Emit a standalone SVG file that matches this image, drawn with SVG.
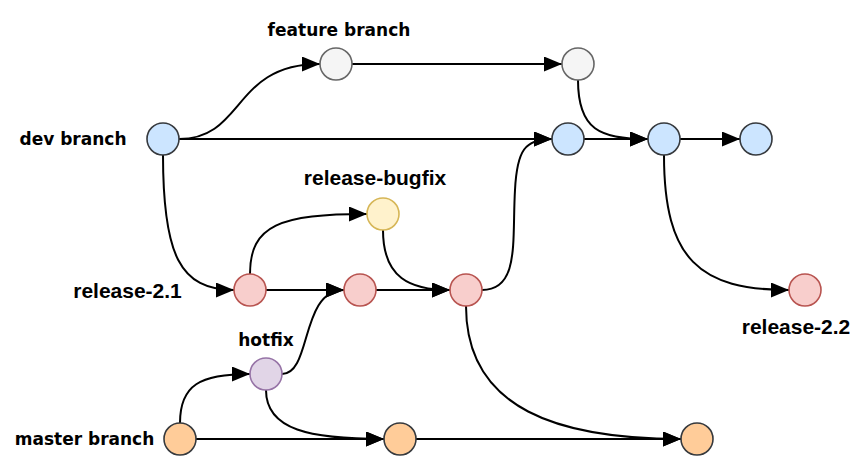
<svg xmlns="http://www.w3.org/2000/svg" width="856" height="476" viewBox="0 0 856 476">
  <style>
    .edge { fill: none; stroke: #000; stroke-width: 2; marker-end: url(#arrow); }
    .node { stroke-width: 1.6; }
    .dev { fill: #cce5ff; stroke: #36393d; }
    .feature { fill: #f5f5f5; stroke: #666666; }
    .bugfix { fill: #fff2cc; stroke: #d6b656; }
    .release { fill: #f8cecc; stroke: #b85450; }
    .hotfix { fill: #e1d5e7; stroke: #9673a6; }
    .master { fill: #ffcc99; stroke: #36393d; }
    .lbl-a { font-family: "DejaVu Sans", sans-serif; font-weight: bold; font-size: 17px; fill: #000; text-anchor: middle; }
    .lbl-b { font-family: "Liberation Sans", Arial, sans-serif; font-weight: bold; font-size: 21px; fill: #000; text-anchor: middle; }
  </style>
  <defs>
    <marker id="arrow" viewBox="0 0 18 15" refX="18" refY="7.5" markerWidth="18" markerHeight="15" markerUnits="userSpaceOnUse" orient="auto">
      <path d="M0,0 L18,7.5 L0,15 z" fill="#000"/>
    </marker>
  </defs>
  <rect width="856" height="476" fill="#fff"/>

  <g id="connectors">
    <!-- dev branch -->
    <path class="edge" d="M179,139 C245,139 232,64 320,64"/>
    <path class="edge" d="M179,139 L552,139"/>
    <path class="edge" d="M163,155 C163,255 180,290 234,290"/>
    <!-- feature branch -->
    <path class="edge" d="M352,64 L562,64"/>
    <path class="edge" d="M578,80 C578,130 600,139 648,139"/>
    <path class="edge" d="M584,139 L648,139"/>
    <path class="edge" d="M680,139 L740,139"/>
    <path class="edge" d="M664,155 C664,260 700,290 789,290"/>
    <!-- release-2.1 -->
    <path class="edge" d="M250,274 C250,225 280,214 367,214"/>
    <path class="edge" d="M266,290 L344,290"/>
    <path class="edge" d="M383,230 C383,278 410,290 450,290"/>
    <path class="edge" d="M376,290 L450,290"/>
    <path class="edge" d="M482,290 C520,290 512,240 515,190 C517,150 525,139 552,139"/>
    <path class="edge" d="M466,306 C466,410 560,439 681,439"/>
    <!-- hotfix -->
    <path class="edge" d="M282,374 C312,374 300,290 344,290"/>
    <path class="edge" d="M266,390 C266,430 310,439 384,439"/>
    <!-- master branch -->
    <path class="edge" d="M180,423 C180,385 200,374 250,374"/>
    <path class="edge" d="M196,439 L384,439"/>
    <path class="edge" d="M416,439 L681,439"/>
  </g>

  <g id="dev-branch">
    <circle class="node dev" cx="163" cy="139" r="16"/>
    <text class="lbl-a" x="73" y="144.5">dev branch</text>
  </g>
  <g id="dev-2"><circle class="node dev" cx="568" cy="139" r="16"/></g>
  <g id="dev-3"><circle class="node dev" cx="664" cy="139" r="16"/></g>
  <g id="dev-4"><circle class="node dev" cx="756" cy="139" r="16"/></g>

  <g id="feature-branch">
    <circle class="node feature" cx="336" cy="64" r="16"/>
    <text class="lbl-a" x="339" y="35.5">feature branch</text>
  </g>
  <g id="feature-2"><circle class="node feature" cx="578" cy="64" r="16"/></g>

  <g id="release-bugfix">
    <circle class="node bugfix" cx="383" cy="214" r="16"/>
    <text class="lbl-b" x="375" y="185">release-bugfix</text>
  </g>

  <g id="release-2-1">
    <circle class="node release" cx="250" cy="290" r="16"/>
    <text class="lbl-b" x="127.5" y="297.5">release-2.1</text>
  </g>
  <g id="release-2-1-b"><circle class="node release" cx="360" cy="290" r="16"/></g>
  <g id="release-2-1-c"><circle class="node release" cx="466" cy="290" r="16"/></g>

  <g id="release-2-2">
    <circle class="node release" cx="805" cy="290" r="16"/>
    <text class="lbl-b" x="796" y="334">release-2.2</text>
  </g>

  <g id="hotfix">
    <circle class="node hotfix" cx="266" cy="374" r="16"/>
    <text class="lbl-a" x="266" y="346">hotfix</text>
  </g>

  <g id="master-branch">
    <circle class="node master" cx="180" cy="439" r="16"/>
    <text class="lbl-a" x="84.5" y="445">master branch</text>
  </g>
  <g id="master-2"><circle class="node master" cx="400" cy="439" r="16"/></g>
  <g id="master-3"><circle class="node master" cx="697" cy="439" r="16"/></g>
</svg>
